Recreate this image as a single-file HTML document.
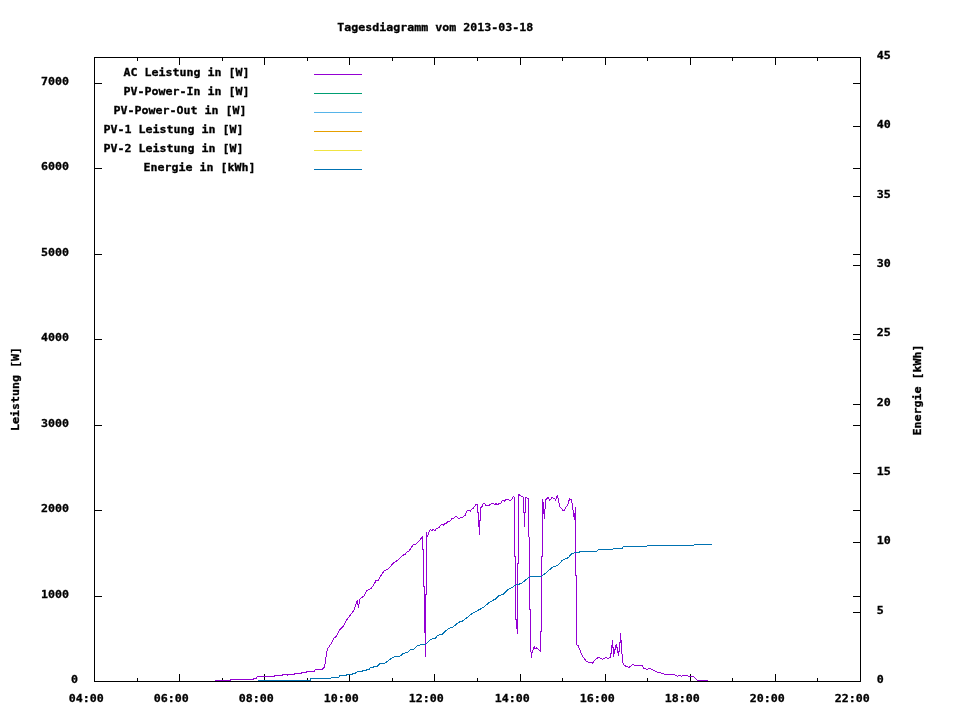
<!DOCTYPE html>
<html lang="de"><head><meta charset="utf-8"><title>Tagesdiagramm vom 2013-03-18</title>
<style>html,body{margin:0;padding:0;background:#fff}svg{display:block}text{font-family:"DejaVu Sans Mono", "Liberation Mono", monospace;font-weight:bold;font-size:11px;fill:#000;stroke:#000;stroke-width:0.3px;white-space:pre}.ax{stroke:#000;stroke-width:1;fill:none;shape-rendering:crispEdges}.c{fill:none;stroke-width:1;stroke-linejoin:round;shape-rendering:crispEdges}</style></head><body>
<svg width="960" height="720" viewBox="0 0 960 720">
<rect width="960" height="720" fill="#fff"/>
<path class="ax" d="M94.5,681.5v-8M94.5,57.5v7M137.5,681.5v-4M137.5,57.5v3M179.5,681.5v-8M179.5,57.5v7M222.5,681.5v-4M222.5,57.5v3M264.5,681.5v-8M264.5,57.5v7M307.5,681.5v-4M307.5,57.5v3M349.5,681.5v-8M349.5,57.5v7M392.5,681.5v-4M392.5,57.5v3M434.5,681.5v-8M434.5,57.5v7M477.5,681.5v-4M477.5,57.5v3M520.5,681.5v-8M520.5,57.5v7M562.5,681.5v-4M562.5,57.5v3M605.5,681.5v-8M605.5,57.5v7M647.5,681.5v-4M647.5,57.5v3M690.5,681.5v-8M690.5,57.5v7M732.5,681.5v-4M732.5,57.5v3M775.5,681.5v-8M775.5,57.5v7M817.5,681.5v-4M817.5,57.5v3M860.5,681.5v-8M860.5,57.5v7M94.5,681.5h7M860.5,681.5h-8M94.5,596.5h7M860.5,596.5h-8M94.5,510.5h7M860.5,510.5h-8M94.5,425.5h7M860.5,425.5h-8M94.5,339.5h7M860.5,339.5h-8M94.5,254.5h7M860.5,254.5h-8M94.5,168.5h7M860.5,168.5h-8M94.5,83.5h7M860.5,83.5h-8M860.5,681.5h-8M860.5,612.5h-8M860.5,542.5h-8M860.5,473.5h-8M860.5,404.5h-8M860.5,334.5h-8M860.5,265.5h-8M860.5,196.5h-8M860.5,126.5h-8M860.5,57.5h-8"/>
<rect class="ax" x="94.5" y="57.5" width="766.0" height="624.0"/>
<polyline class="c" stroke="#9400d3" points="215.0,680.5 230.0,680.5 231.0,679.5 253.0,679.5 254.0,678.5 256.0,678.5 257.5,676.5 274.0,676.5 275.0,675.5 282.0,675.5 283.0,674.5 287.0,674.5 287.5,675.5 288.0,674.5 294.0,674.5 295.0,673.5 301.0,673.5 302.0,672.5 306.0,672.5 307.0,671.5 314.0,671.5 315.5,669.5 322.0,669.5 323.0,668.5 324.0,667.5 324.8,665.0 325.7,659.7 326.5,653.8 327.4,649.0 328.6,647.3 331.6,643.1 333.3,639.0 336.9,635.5 339.8,629.6 343.4,626.0 346.9,619.5 351.1,614.2 354.0,610.1 355.8,604.8 357.3,600.4 358.5,607.7 359.6,600.0 360.5,598.3 363.9,596.1 366.8,590.7 371.2,588.3 374.6,583.4 376.0,580.5 378.5,580.0 380.9,575.7 384.3,570.8 388.2,568.9 392.1,564.5 395.5,561.3 396.9,560.9 402.3,555.5 405.2,554.3 407.6,551.4 409.1,550.9 413.4,544.6 415.4,544.4 418.3,541.9 422.5,536.5 422.5,549.0 423.5,549.5 423.5,586.0 424.5,586.5 424.5,632.5 425.5,633.0 425.5,656.5 425.5,594.5 426.5,594.0 426.5,532.5 427.3,536.7 428.4,534.4 428.8,532.5 430.3,529.4 431.9,530.6 433.4,529.4 434.9,530.6 436.4,528.6 438.7,527.9 441.4,524.4 442.9,524.4 443.7,525.2 444.5,523.7 446.4,523.4 447.5,521.6 449.4,521.6 452.1,518.5 453.6,518.3 455.6,516.3 456.7,516.4 458.6,518.5 460.1,517.9 462.4,517.6 465.1,515.3 466.6,511.1 467.8,510.3 469.7,510.4 470.5,511.4 471.2,509.9 473.5,508.0 476.0,504.5 477.5,504.1 477.5,512.0 478.5,512.5 478.5,526.5 479.5,521.0 479.5,534.5 479.5,521.0 480.5,520.5 480.5,507.6 481.5,507.5 483.3,503.8 484.4,503.6 486.3,505.7 488.6,505.7 491.3,503.6 493.6,503.6 494.6,504.7 495.9,503.4 497.4,504.7 499.0,503.6 500.5,503.6 502.4,500.3 503.9,500.5 504.5,501.6 505.5,499.6 508.5,499.6 510.0,500.7 511.6,499.6 513.5,496.3 514.5,497.3 514.5,556.0 515.5,556.5 515.5,619.5 516.5,620.0 516.5,628.5 517.5,629.0 517.5,633.6 517.5,564.0 518.5,563.5 518.5,494.2 521.2,496.2 522.5,496.9 523.5,497.5 523.5,512.5 524.5,512.8 524.5,527.0 524.5,512.8 525.5,512.5 525.5,497.5 528.5,498.3 528.5,536.8 529.5,537.2 529.5,609.5 530.5,610.0 530.5,651.8 531.5,652.2 531.5,657.7 532.0,652.5 534.3,646.3 535.0,649.2 536.7,647.8 538.6,649.2 540.5,651.5 540.5,632.0 541.5,631.5 541.5,556.5 542.5,556.0 542.5,499.0 543.5,504.0 543.5,513.8 543.8,505.0 544.5,518.8 545.5,500.0 546.0,499.7 548.4,497.2 548.9,498.4 549.5,500.3 550.6,499.4 552.4,497.2 553.1,498.1 554.7,498.4 555.5,500.3 556.6,497.8 557.5,495.1 557.8,497.5 558.6,498.4 558.6,502.5 559.5,503.4 559.5,506.6 562.5,509.7 562.8,510.3 564.4,510.3 565.6,507.5 567.5,505.3 568.8,501.6 569.5,498.2 570.3,499.4 571.6,499.5 571.8,502.8 572.5,503.4 572.7,509.7 573.4,510.3 573.6,515.3 574.5,519.7 575.5,507.2 575.5,575.2 576.5,575.7 576.5,644.6 578.2,645.8 580.3,650.8 582.4,656.2 586.2,661.2 589.5,662.5 592.4,663.2 595.3,659.6 598.7,657.3 602.8,659.3 605.8,657.3 608.2,658.5 610.5,657.5 610.5,653.5 611.5,653.0 611.5,645.4 612.5,645.0 612.5,640.4 612.5,647.0 613.5,647.5 613.5,656.5 613.5,654.0 614.5,653.5 614.5,649.5 615.5,649.0 615.5,645.4 616.5,644.5 616.5,647.5 617.5,648.0 617.5,652.5 618.5,653.0 618.5,655.4 618.5,652.0 619.5,651.5 619.5,642.5 620.5,642.0 620.5,633.2 620.5,640.5 621.5,641.0 621.5,653.8 622.5,654.2 622.5,661.7 624.1,665.0 625.8,666.2 629.1,667.5 631.6,665.4 633.7,664.3 634.5,665.4 639.9,665.6 642.5,665.5 643.5,668.5 645.5,668.5 646.5,669.5 647.5,669.5 648.5,668.5 650.5,668.5 651.5,669.5 652.5,669.5 653.5,670.5 654.5,670.5 655.5,671.5 656.5,671.5 657.5,672.5 660.5,672.5 661.5,673.5 663.5,673.5 664.5,674.5 674.5,674.5 675.5,675.5 676.5,675.5 677.5,676.5 678.5,675.5 680.5,675.5 681.5,676.5 682.5,675.5 687.5,675.5 688.5,676.5 693.5,676.5 697.5,680.5 707.5,680.5"/>
<polyline class="c" stroke="#0072b2" points="258.0,680.5 310.0,680.5 311.0,678.5 330.5,678.5 331.5,677.5 338.5,677.5 340.0,675.5 346.0,675.5 347.0,674.5 352.0,674.5 353.0,673.5 355.0,673.5 357.5,671.5 362.0,671.5 363.0,670.5 366.0,670.5 367.0,669.5 369.0,669.5 370.5,667.5 373.0,667.5 374.0,666.5 377.0,666.5 379.0,664.5 379.7,663.6 384.4,663.6 392.8,657.3 400.3,655.9 403.1,653.6 407.8,652.2 410.1,649.8 414.4,648.9 416.7,646.1 421.9,644.5 425.6,644.2 430.3,639.5 435.9,637.9 437.3,635.5 442.0,634.4 444.8,631.6 449.0,628.3 452.8,627.3 456.5,624.1 460.3,621.5 462.4,621.2 471.8,613.8 477.7,610.5 483.6,607.3 489.5,602.2 495.4,599.0 499.0,595.5 503.1,594.3 509.6,588.2 511.9,587.8 514.9,585.5 521.4,583.4 529.1,577.2 533.2,576.4 541.5,576.4 544.4,574.2 553.3,566.6 556.8,565.7 560.0,563.4 561.6,560.9 568.2,557.6 572.2,553.3 579.4,552.3 580.1,551.4 596.6,551.4 598.5,549.4 612.5,549.4 613.3,548.4 622.0,548.4 623.3,546.4 646.7,546.4 648.0,545.4 693.3,545.4 694.7,544.5 711.7,544.5"/>
<text transform="translate(71.00,683.05) scale(1.0571,1.0)" textLength="6.62" lengthAdjust="spacing">0</text>
<text transform="translate(41.00,598.05) scale(1.0571,1.0)" textLength="26.49" lengthAdjust="spacing">1000</text>
<text transform="translate(41.00,512.05) scale(1.0571,1.0)" textLength="26.49" lengthAdjust="spacing">2000</text>
<text transform="translate(41.00,427.05) scale(1.0571,1.0)" textLength="26.49" lengthAdjust="spacing">3000</text>
<text transform="translate(41.00,341.05) scale(1.0571,1.0)" textLength="26.49" lengthAdjust="spacing">4000</text>
<text transform="translate(41.00,256.05) scale(1.0571,1.0)" textLength="26.49" lengthAdjust="spacing">5000</text>
<text transform="translate(41.00,170.05) scale(1.0571,1.0)" textLength="26.49" lengthAdjust="spacing">6000</text>
<text transform="translate(41.00,85.05) scale(1.0571,1.0)" textLength="26.49" lengthAdjust="spacing">7000</text>
<text transform="translate(876.70,683.05) scale(1.0571,1.0)" textLength="6.62" lengthAdjust="spacing">0</text>
<text transform="translate(876.70,614.05) scale(1.0571,1.0)" textLength="6.62" lengthAdjust="spacing">5</text>
<text transform="translate(876.70,544.05) scale(1.0571,1.0)" textLength="13.24" lengthAdjust="spacing">10</text>
<text transform="translate(876.70,475.05) scale(1.0571,1.0)" textLength="13.24" lengthAdjust="spacing">15</text>
<text transform="translate(876.70,406.05) scale(1.0571,1.0)" textLength="13.24" lengthAdjust="spacing">20</text>
<text transform="translate(876.70,336.05) scale(1.0571,1.0)" textLength="13.24" lengthAdjust="spacing">25</text>
<text transform="translate(876.70,267.05) scale(1.0571,1.0)" textLength="13.24" lengthAdjust="spacing">30</text>
<text transform="translate(876.70,198.05) scale(1.0571,1.0)" textLength="13.24" lengthAdjust="spacing">35</text>
<text transform="translate(876.70,128.05) scale(1.0571,1.0)" textLength="13.24" lengthAdjust="spacing">40</text>
<text transform="translate(876.70,59.05) scale(1.0571,1.0)" textLength="13.24" lengthAdjust="spacing">45</text>
<text transform="translate(68.70,702.05) scale(1.0571,1.0)" textLength="33.11" lengthAdjust="spacing">04:00</text>
<text transform="translate(153.70,702.05) scale(1.0571,1.0)" textLength="33.11" lengthAdjust="spacing">06:00</text>
<text transform="translate(238.70,702.05) scale(1.0571,1.0)" textLength="33.11" lengthAdjust="spacing">08:00</text>
<text transform="translate(323.70,702.05) scale(1.0571,1.0)" textLength="33.11" lengthAdjust="spacing">10:00</text>
<text transform="translate(408.70,702.05) scale(1.0571,1.0)" textLength="33.11" lengthAdjust="spacing">12:00</text>
<text transform="translate(494.70,702.05) scale(1.0571,1.0)" textLength="33.11" lengthAdjust="spacing">14:00</text>
<text transform="translate(579.70,702.05) scale(1.0571,1.0)" textLength="33.11" lengthAdjust="spacing">16:00</text>
<text transform="translate(664.70,702.05) scale(1.0571,1.0)" textLength="33.11" lengthAdjust="spacing">18:00</text>
<text transform="translate(749.70,702.05) scale(1.0571,1.0)" textLength="33.11" lengthAdjust="spacing">20:00</text>
<text transform="translate(834.70,702.05) scale(1.0571,1.0)" textLength="33.11" lengthAdjust="spacing">22:00</text>
<text transform="translate(337.30,31.05) scale(1.0571,1.0)" textLength="185.41" lengthAdjust="spacing">Tagesdiagramm vom 2013-03-18</text>
<text transform="translate(19.05,431.00) rotate(-90) scale(1.0571,1.0)" textLength="79.46" lengthAdjust="spacing">Leistung [W]</text>
<text transform="translate(921.05,435.50) rotate(-90) scale(1.0571,1.0)" textLength="86.08" lengthAdjust="spacing">Energie [kWh]</text>
<text transform="translate(123.50,76.05) scale(1.0571,1.0)" textLength="119.19" lengthAdjust="spacing">AC Leistung in [W]</text>
<path d="M314,74.5H362" stroke="#9400d3" stroke-width="1" fill="none" shape-rendering="crispEdges"/>
<text transform="translate(123.50,95.05) scale(1.0571,1.0)" textLength="119.19" lengthAdjust="spacing">PV-Power-In in [W]</text>
<path d="M314,93.5H362" stroke="#009e73" stroke-width="1" fill="none" shape-rendering="crispEdges"/>
<text transform="translate(113.50,114.05) scale(1.0571,1.0)" textLength="125.82" lengthAdjust="spacing">PV-Power-Out in [W]</text>
<path d="M314,112.5H362" stroke="#56b4e9" stroke-width="1" fill="none" shape-rendering="crispEdges"/>
<text transform="translate(103.50,133.05) scale(1.0571,1.0)" textLength="132.44" lengthAdjust="spacing">PV-1 Leistung in [W]</text>
<path d="M314,131.5H362" stroke="#e69f00" stroke-width="1" fill="none" shape-rendering="crispEdges"/>
<text transform="translate(103.50,152.05) scale(1.0571,1.0)" textLength="132.44" lengthAdjust="spacing">PV-2 Leistung in [W]</text>
<path d="M314,150.5H362" stroke="#f0e442" stroke-width="1" fill="none" shape-rendering="crispEdges"/>
<text transform="translate(143.50,171.05) scale(1.0571,1.0)" textLength="105.95" lengthAdjust="spacing">Energie in [kWh]</text>
<path d="M314,169.5H362" stroke="#0072b2" stroke-width="1" fill="none" shape-rendering="crispEdges"/>
</svg></body></html>
